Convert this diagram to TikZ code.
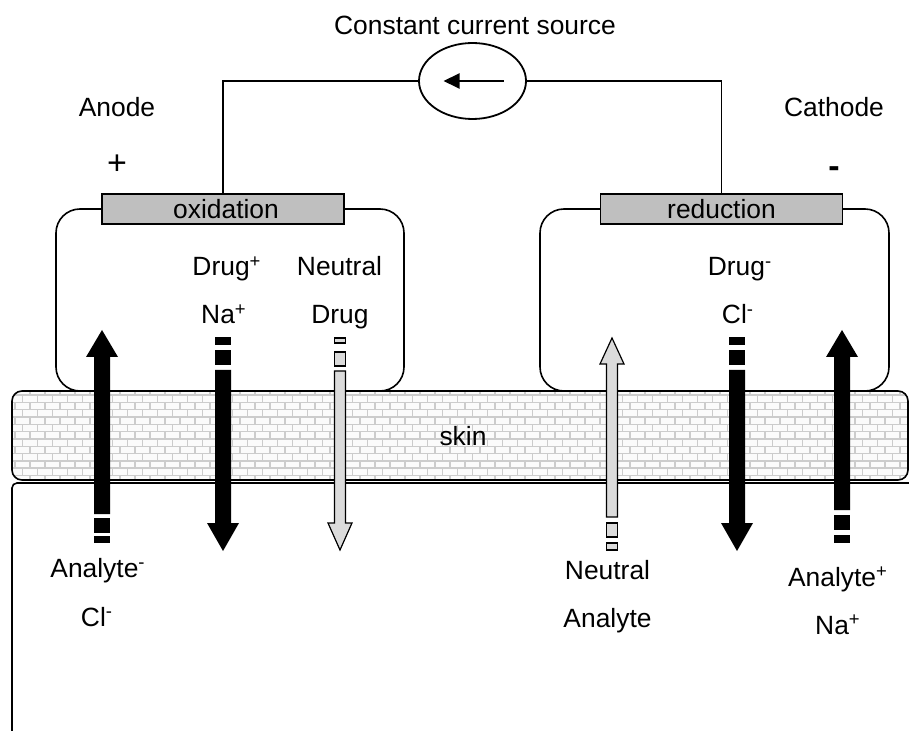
\documentclass[tikz,border=0pt]{standalone}
\usepackage{fontspec}
\setmainfont{Liberation Sans}
\usepackage{tikz}
\usetikzlibrary{arrows.meta,shapes.geometric,patterns}

% brick texture for the skin layer
\pgfdeclarepatternformonly{skinbricks}{\pgfpoint{-0.5pt}{-0.5pt}}{\pgfpoint{8pt}{7.8pt}}{\pgfpoint{7.5pt}{7.3pt}}{%
    \pgfsetlinewidth{0.7pt}
    \pgfpathmoveto{\pgfpoint{0pt}{0pt}}\pgfpathlineto{\pgfpoint{7.5pt}{0pt}}
    \pgfpathmoveto{\pgfpoint{0pt}{3.65pt}}\pgfpathlineto{\pgfpoint{7.5pt}{3.65pt}}
    \pgfpathmoveto{\pgfpoint{0pt}{0pt}}\pgfpathlineto{\pgfpoint{0pt}{3.65pt}}
    \pgfpathmoveto{\pgfpoint{3.75pt}{3.65pt}}\pgfpathlineto{\pgfpoint{3.75pt}{7.3pt}}
    \pgfusepath{stroke}}

\begin{document}
\begin{tikzpicture}[
    x=0.5pt, y=-0.5pt,
    lbl/.style={font=\fontsize{13.2}{15}\selectfont, inner sep=0pt, anchor=base},
    sign/.style={font=\fontsize{17}{19}\selectfont, inner sep=0pt, anchor=base},
    electrode/.style={draw, fill=gray!50, line width=0.8pt, inner sep=0pt,
        minimum width=121pt, minimum height=15pt, font=\fontsize{13.2}{15}\selectfont},
    chamber/.style={draw, line width=0.8pt, rounded corners=12pt},
    wire/.style={line width=0.7pt},
    blk/.style={fill=black},
    lite/.style={draw=black, fill=gray!28, line width=0.6pt}
]

    \useasboundingbox (0,0) rectangle (909,731);

    % Tissue below the skin
    \draw[line width=0.8pt, rounded corners=2.5pt]
        (12,731) -- (12,483) -- (909,483);

    % Skin
    \draw[
        line width=0.8pt,
        rounded corners=5pt,
        preaction={fill=gray!3},
        pattern=skinbricks,
        pattern color=gray!40
    ] (12,391) rectangle (908,480);
    \node[lbl] (skin) at (463,445) {skin};

    % Electrode chambers
    \draw[chamber] (56,209) rectangle (404,391);
    \draw[chamber] (540,209) rectangle (889,391);

    \node[electrode] (oxbox) at (223,209) {\hspace*{3pt}oxidation};
    \node[electrode] (redbox) at (721.5,209) {reduction};

    % Current source
    \node[
        ellipse,
        draw,
        line width=0.9pt,
        minimum width=53.5pt,
        minimum height=38pt,
        inner sep=0pt
    ] (src) at (472.5,81) {};
    \draw[line width=1pt, -{Triangle[length=8pt,width=7.5pt]}]
        ([xshift=15.5pt]src.center) -- ([xshift=-14.5pt]src.center);

    \draw[wire] (src.west) -| (oxbox.north);
    \draw[wire] (src.east) -| (redbox.north);

    \node[lbl] (title) at (475,35) {Constant current source};
    \node[lbl] (anode) at (117,117) {Anode};
    \node[sign] (plus) at (117,175) {+};
    \node[lbl] (cathode) at (834,117) {Cathode};
    \node[sign] (minus) at (834,178) {\bfseries -};

    % Analyte- up (anode side)
    \fill[blk] (94,514) -- (94,357) -- (86,357) -- (102,330)
        -- (118,357) -- (110,357) -- (110,514) -- cycle;
    \fill[blk] (94,518) rectangle (110,533);
    \fill[blk] (94,536) rectangle (110,543);

    % Drug+ / Na+ down
    \fill[blk] (215,337) rectangle (231,345);
    \fill[blk] (215,350) rectangle (231,365);
    \fill[blk] (215,370) -- (215,523) -- (207,523) -- (223,551)
        -- (239,523) -- (231,523) -- (231,370) -- cycle;

    % Neutral drug down
    \draw[lite] (334.5,338) rectangle (345.5,343);
    \draw[lite] (334.5,352) rectangle (345.5,366);
    \draw[lite] (334.5,371) -- (334.5,523) -- (328,523) -- (340,550)
        -- (352,523) -- (345.5,523) -- (345.5,371) -- cycle;

    % Neutral analyte up
    \draw[lite] (606.5,517) -- (606.5,364) -- (600,364) -- (612,338)
        -- (624,364) -- (617.5,364) -- (617.5,517) -- cycle;
    \draw[lite] (606.5,523) rectangle (617.5,537);
    \draw[lite] (606.5,543) rectangle (617.5,550);

    % Drug- / Cl- down
    \fill[blk] (729,337) rectangle (745,345);
    \fill[blk] (729,350) rectangle (745,365);
    \fill[blk] (729,370) -- (729,523) -- (721,523) -- (737,551)
        -- (753,523) -- (745,523) -- (745,370) -- cycle;

    % Analyte+ up (cathode side)
    \fill[blk] (834,510) -- (834,357) -- (826,357) -- (842,330)
        -- (858,357) -- (850,357) -- (850,510) -- cycle;
    \fill[blk] (834,515) rectangle (850,530);
    \fill[blk] (834,535) rectangle (850,543);

    % Species in the chambers
    \node[lbl] (drugp) at (227,276) {Drug\textsuperscript{+}};
    \node[lbl] (nap) at (224,324) {Na\textsuperscript{+}};
    \node[lbl] (neut) at (339.5,276) {Neutral};
    \node[lbl] (drug) at (340,324) {Drug};
    \node[lbl] (drugm) at (740,276) {Drug\textsuperscript{-}};
    \node[lbl] (clm) at (738,324) {Cl\textsuperscript{-}};

    % Species in the tissue
    \node[lbl] (anam) at (98,577) {Analyte\textsuperscript{-}};
    \node[lbl] (clb) at (97,626) {Cl\textsuperscript{-}};
    \node[lbl] (neutb) at (607.5,579) {Neutral};
    \node[lbl] (anab) at (607.5,627) {Analyte};
    \node[lbl] (anap) at (838,586) {Analyte\textsuperscript{+}};
    \node[lbl] (nab) at (838,634) {Na\textsuperscript{+}};

\end{tikzpicture}
\end{document}
